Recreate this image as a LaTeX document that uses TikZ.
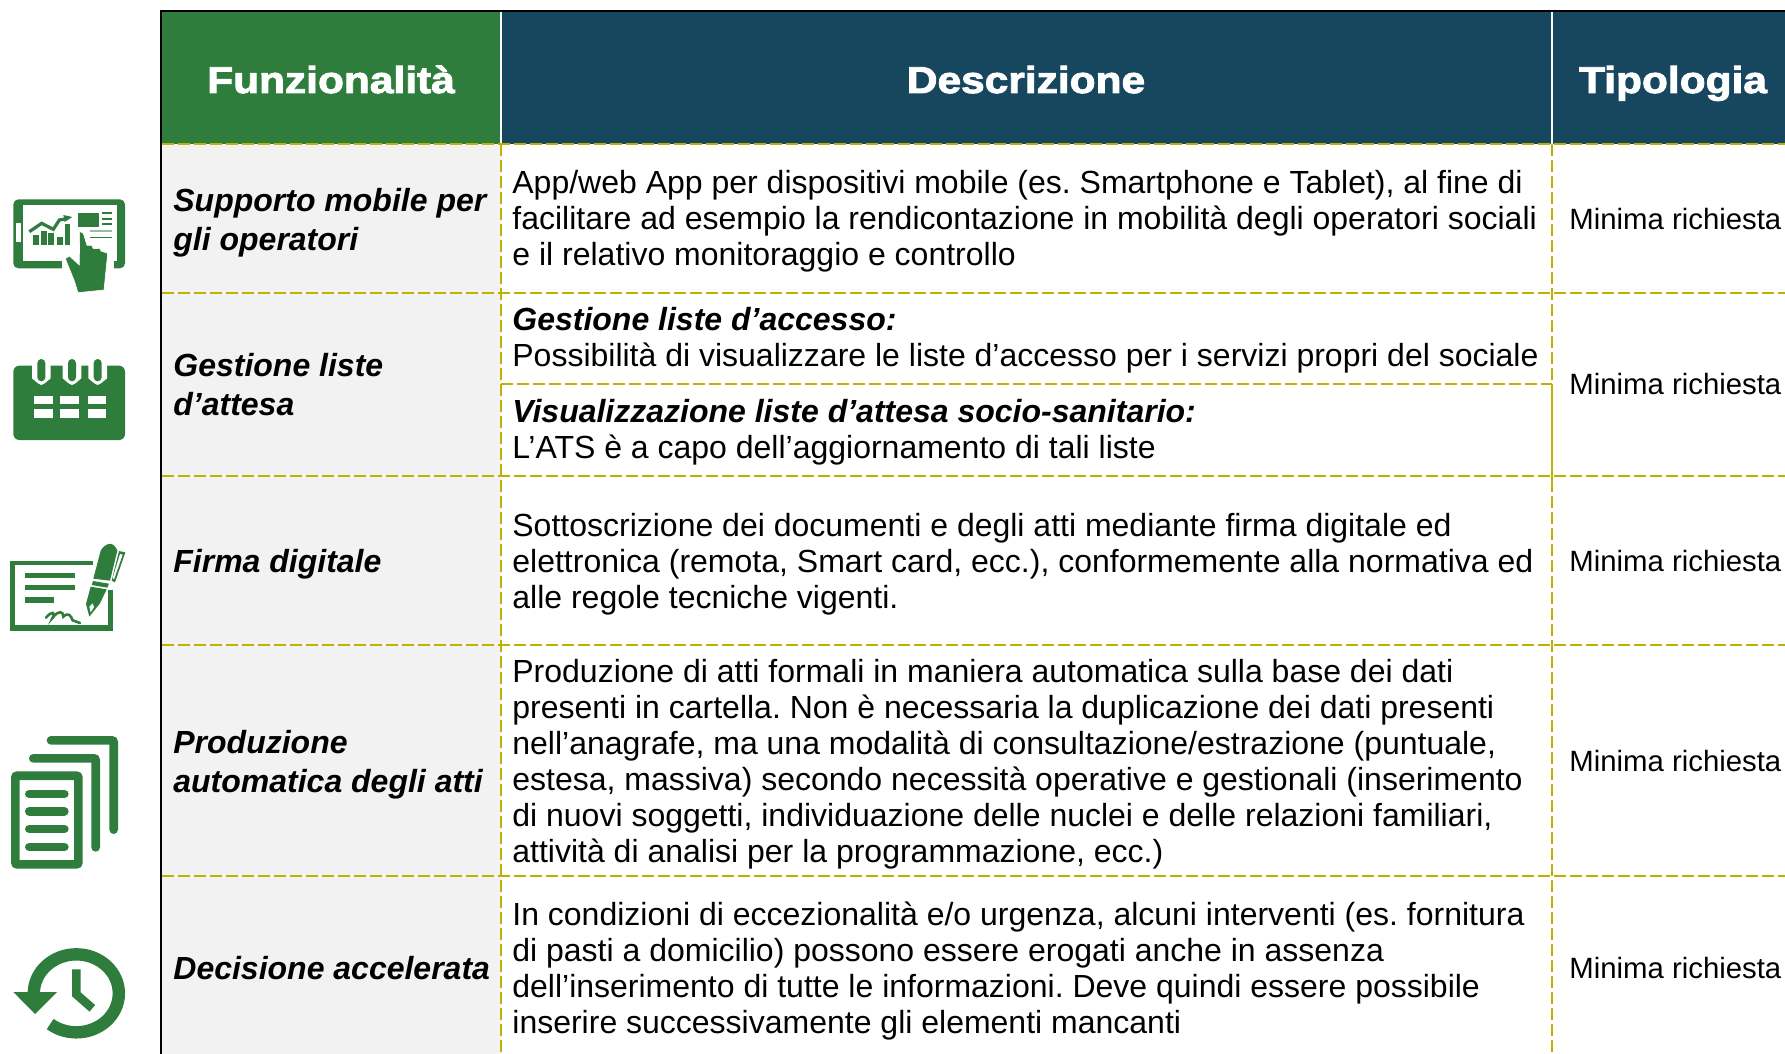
\documentclass[tikz,border=0pt]{standalone}
\usepackage{fontspec}
\setmainfont{Liberation Sans}
\newfontfamily\headfont[FakeStretch=1.135,FakeBold=2.5]{Liberation Sans Bold}
\definecolor{gr}{HTML}{2E7D3C}
\definecolor{bl}{HTML}{17475F}
\definecolor{yl}{HTML}{BDB200}
\definecolor{lg}{HTML}{F2F2F2}
\tikzset{
 x=0.5pt,y=-0.5pt,
 ic/.style={shift={(#1)},x=0.16667pt,y=-0.16667pt},
 grid/.style={draw=yl,line width=1pt,dash pattern=on 6pt off 2pt},
 hd/.style={text=white,font=\headfont\fontsize{18.7}{20}\selectfont,inner sep=0pt,anchor=base},
 fn/.style={font=\bfseries\itshape\fontsize{16}{19.5}\selectfont,align=left,anchor=west,inner sep=0pt},
 ds/.style={font=\fontsize{16}{18}\selectfont,align=left,anchor=west,inner sep=0pt},
 ty/.style={font=\fontsize{14.67}{17}\selectfont,anchor=west,inner sep=0pt},
 gf/.style={fill=gr,draw=none},
 wf/.style={fill=white,draw=none},
 gl/.style={draw=gr},
}
\begin{document}
\frenchspacing
\begin{tikzpicture}
\useasboundingbox (0,0) rectangle (1785,1054);
\fill[lg] (162,144) rectangle (501,1054);
\fill[gr] (162,12) rectangle (501,144);
\fill[bl] (501,12) rectangle (1785,144);
\draw[white,line width=1pt] (501,12) -- (501,144);
\draw[white,line width=1pt] (1552,12) -- (1552,144);
\draw[black,line width=1.2pt] (161,1054) -- (161,11) -- (1785,11);
\foreach \yy in {144,293,476,645,876}{\draw[grid] (162,\yy) -- (1785,\yy);}
\draw[grid] (501,384) -- (1552,384);
\draw[grid] (501,144) -- (501,1054);
\draw[grid] (1552,144) -- (1552,1054);
\draw[draw=yl,line width=1pt] (1552,384) -- (1552,487);

\node[hd] (h1) at (331,93) {Funzionalità};
\node[hd] (h2) at (1026,93) {Descrizione};
\node[hd] (h3) at (1673,93) {Tipologia};

\node[fn] (f1) at (173,222.5) {Supporto mobile per\\gli operatori};
\node[fn] (f2) at (173,385) {Gestione liste\\d’attesa};
\node[fn] (f3) at (173,564.4) {Firma digitale};
\node[fn] (f4) at (173,764.3) {Produzione\\automatica degli atti};
\node[fn] (f5) at (173,968) {Decisione accelerata};

\node[ds] (d1) at (512,221.4) {App/web App per dispositivi mobile (es. Smartphone e Tablet), al fine di\\facilitare ad esempio la rendicontazione in mobilità degli operatori sociali\\e il relativo monitoraggio e controllo};
\node[ds] (d2a) at (512,340.3) {{\bfseries\itshape Gestione liste d’accesso:}\\Possibilità di visualizzare le liste d’accesso per i servizi propri del sociale};
\node[ds] (d2b) at (512,432.3) {{\bfseries\itshape Visualizzazione liste d’attesa socio-sanitario:}\\L’ATS è a capo dell’aggiornamento di tali liste};
\node[ds] (d3) at (512,563.8) {Sottoscrizione dei documenti e degli atti mediante firma digitale ed\\elettronica (remota, Smart card, ecc.), conformemente alla normativa ed\\alle regole tecniche vigenti.};
\node[ds] (d4) at (512,764.4) {Produzione di atti formali in maniera automatica sulla base dei dati\\presenti in cartella. Non è necessaria la duplicazione dei dati presenti\\nell’anagrafe, ma una modalità di consultazione/estrazione (puntuale,\\estesa, massiva) secondo necessità operative e gestionali (inserimento\\di nuovi soggetti, individuazione delle nuclei e delle relazioni familiari,\\attività di analisi per la programmazione, ecc.)};
\node[ds] (d5) at (512,971.4) {In condizioni di eccezionalità e/o urgenza, alcuni interventi (es. fornitura\\di pasti a domicilio) possono essere erogati anche in assenza\\dell’inserimento di tutte le informazioni. Deve quindi essere possibile\\inserire successivamente gli elementi mancanti};

\node[ty] (t1) at (1569,219) {Minima richiesta};
\node[ty] (t2) at (1569,384) {Minima richiesta};
\node[ty] (t3) at (1569,561) {Minima richiesta};
\node[ty] (t4) at (1569,761) {Minima richiesta};
\node[ty] (t5) at (1569,968) {Minima richiesta};

% tablet
\begin{scope}[ic={0,170}]
\fill[gf,rounded corners=2.5pt] (40,88) rectangle (375,295);
\fill[wf] (68,105) rectangle (352,272);
\fill[wf] (48,160) rectangle (62,215);
\fill[wf] (185,270) rectangle (342,296);
\fill[gf] (100,195) rectangle (116,224);
\fill[gf] (124,183) rectangle (141,224);
\fill[gf] (144,188) rectangle (161,224);
\fill[gf] (171,201) rectangle (188,224);
\fill[gf] (195,163) rectangle (211,224);
\draw[gr,line width=1.6pt] (88,185) -- (125,160) -- (160,178) -- (178,150) -- (195,147);
\fill[gf] (190,135) -- (217,141) -- (194,156) -- cycle;
\fill[gf] (233,128) rectangle (297,170);
\fill[gf] (307,127) rectangle (336,131);
\fill[gf] (307,143) rectangle (336,149);
\fill[gf] (307,160) rectangle (336,164);
\fill[gr!50] (270,181) rectangle (336,185);
\fill[gf] (270,201) rectangle (336,204);
\fill[gf,draw=white,line width=.3pt] (239,184) -- (250,190) -- (261,226) -- (275,226) -- (280,236) -- (299,235) -- (303,243) -- (323,250) -- (312,360) -- (234,368) -- (222,330) -- (196,266) -- (208,258) -- (238,285) -- cycle;
\end{scope}
% calendar
\begin{scope}[ic={0,170}]
\fill[gf,rounded corners=3pt] (40,587) rectangle (375,810);
\foreach \xx in {124,216,293}{
 \fill[wf] (\xx-28,560) -- (\xx-28,625) -- (\xx-10,640) -- (\xx,645) -- (\xx+10,640) -- (\xx+28,625) -- (\xx+28,560) -- cycle;
 \fill[gf,rounded corners=2pt] (\xx-12,567) rectangle (\xx+12,634);
}
\foreach \xx/\xb in {102/158,181/237,263/319}{
 \fill[wf] (\xx,677) rectangle (\xb,702);
 \fill[wf] (\xx,718) rectangle (\xb,745);
}
\end{scope}
% signature
\begin{scope}[ic={0,530}]
\fill[gf] (30,92) rectangle (278,106);
\fill[gf] (30,92) rectangle (46,302);
\fill[gf] (30,284) rectangle (338,302);
\fill[gf] (323,180) rectangle (338,302);
\fill[gf] (74,130) rectangle (225,143);
\fill[gf] (74,165) rectangle (225,179);
\fill[gf] (74,202) rectangle (163,218);
\draw[gr,line width=1.3pt,line cap=round] (138,263) .. controls (155,243) and (168,245) .. (158,263) .. controls (178,238) and (190,245) .. (190,260) .. controls (205,246) and (212,256) .. (218,271) -- (240,279);
\fill[gf] (302,62) .. controls (315,40) and (340,30) .. (352,62) -- (330,152) -- (280,146) -- cycle;
\fill[gf] (357,63) -- (376,67) -- (345,157) -- (335,152) -- cycle;
\fill[wf] (360,72) -- (368,74) -- (342,148) -- (338,144) -- cycle;
\fill[gf] (279,153) -- (327,161) -- (322,173) -- (275,165) -- cycle;
\fill[gf] (272,170) -- (320,178) -- (300,220) -- (268,260) -- (258,222) -- cycle;
\fill[wf] (268,230) -- (278,220) -- (282,232) -- (272,247) -- cycle;
\end{scope}
% documents
\begin{scope}[ic={0,720}]
\draw[gl,line width=4.33pt,line cap=round,rounded corners=1pt] (153,61) -- (341,61) -- (341,329);
\draw[gl,line width=4.33pt,line cap=round,rounded corners=1pt] (100,115) -- (287,115) -- (287,382);
\draw[gl,line width=4.33pt,rounded corners=1pt] (46,167) rectangle (235,433);
\foreach \yy in {222,274,327,381}{\draw[gl,line width=4.33pt,line cap=round] (88,\yy) -- (193,\yy);}
\end{scope}
% history
\begin{scope}[ic={0,930}]
\draw[gl,line width=6.2pt] (101.5,190) arc[start angle=180,end angle=-128,x radius=127.5,y radius=-117];
\fill[gf] (40,186) -- (171,186) -- (105,252) -- cycle;
\draw[gl,line width=4.33pt] (229,118) -- (229,193) -- (277,235);
\end{scope}
\end{tikzpicture}
\end{document}
